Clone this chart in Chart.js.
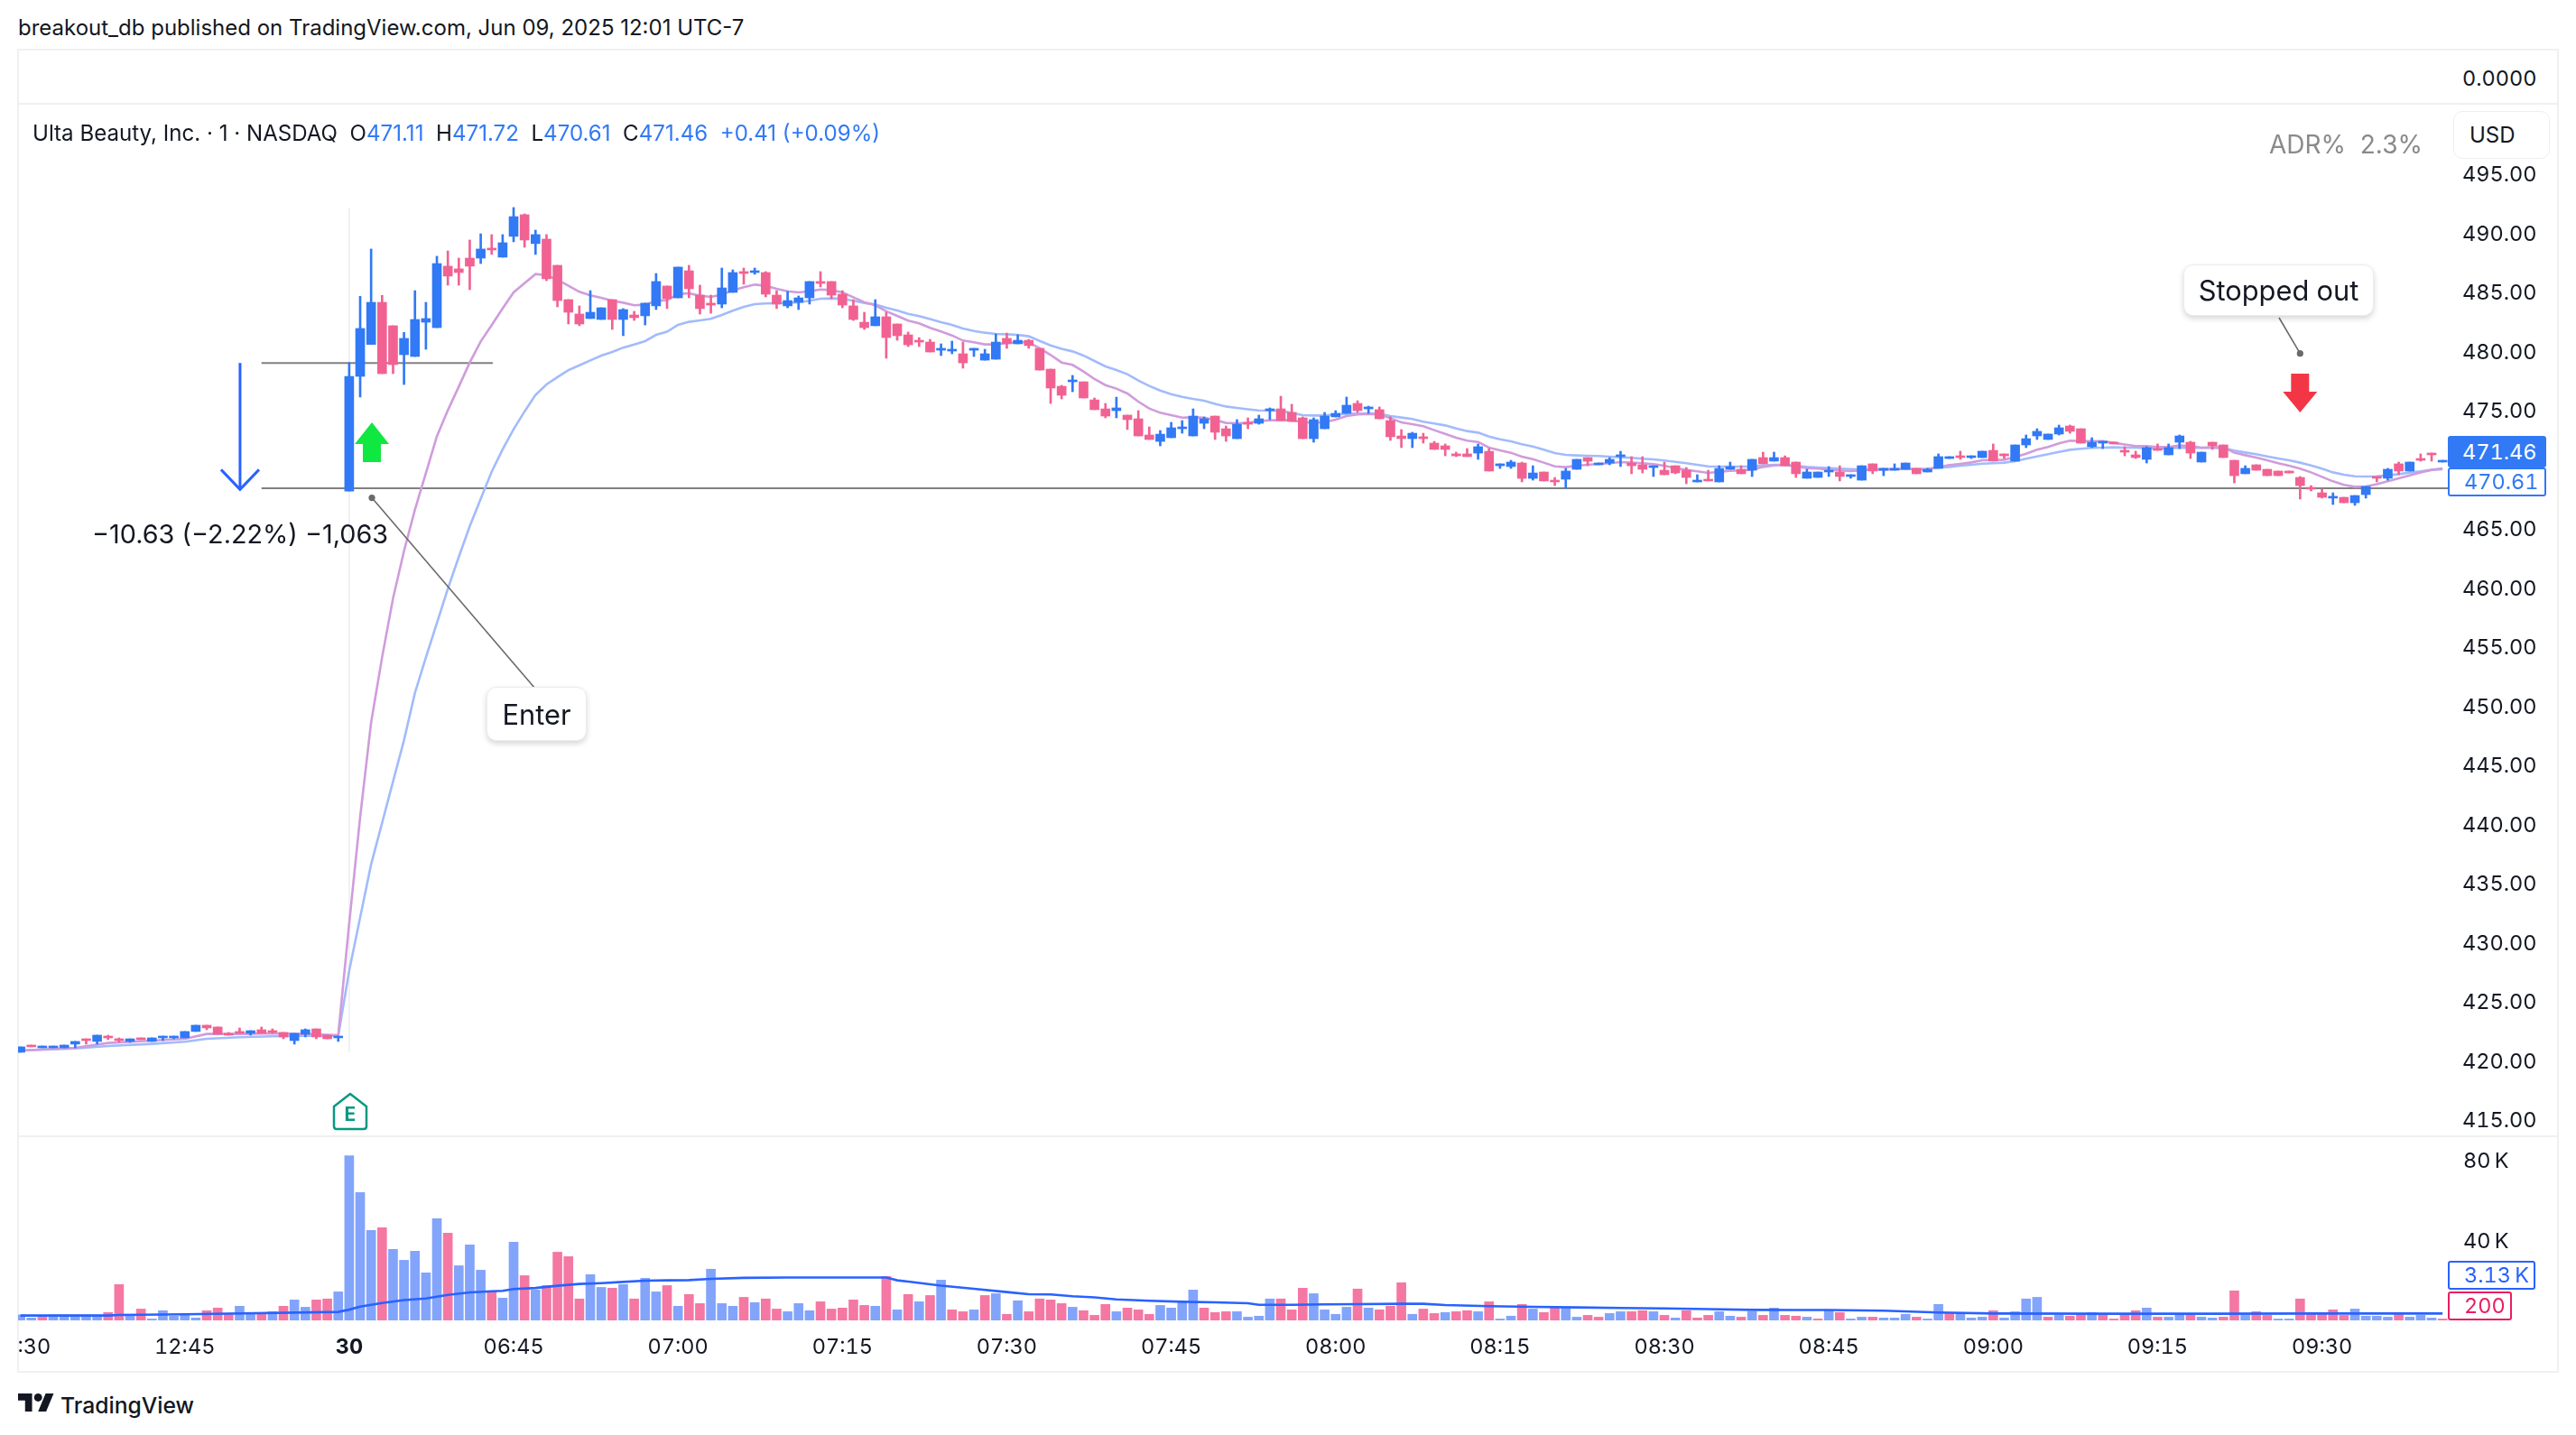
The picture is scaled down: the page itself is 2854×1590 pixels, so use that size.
<!DOCTYPE html>
<html><head><meta charset="utf-8">
<script src="https://cdn.jsdelivr.net/npm/chart.js@4/dist/chart.umd.min.js"></script>
<style>
html,body{margin:0;padding:0;background:#fff;width:2854px;height:1590px;overflow:hidden;font-family:Inter,sans-serif;color:#131722;font-variant-numeric:tabular-nums}
canvas{position:absolute;display:block}
.t{position:absolute;white-space:nowrap;line-height:1}
.rule{position:absolute;background:#f0f0f0}
.b{color:#3179f5}
.call{position:absolute;background:#fff;border:1px solid #ececec;border-radius:11px;box-shadow:0 3px 6px rgba(0,0,0,.16);display:flex;align-items:center;justify-content:center;font-size:30.8px;box-sizing:border-box}
.tag{position:absolute;box-sizing:border-box;border-radius:3px;font-size:23.5px;line-height:1;display:flex;align-items:center;padding-left:16px}
</style></head><body>
<div class="rule" style="left:20px;top:54px;width:2814px;height:2px"></div>
<div class="rule" style="left:20px;top:114px;width:2814px;height:2px"></div>
<div class="rule" style="left:20px;top:1258px;width:2814px;height:2px"></div>
<div class="rule" style="left:20px;top:1519px;width:2814px;height:2px"></div>
<div class="rule" style="left:19px;top:54px;width:2px;height:1467px"></div>
<div class="rule" style="left:2833px;top:54px;width:2px;height:1467px"></div>
<canvas id="price" width="2814" height="1140" style="left:20px;top:117px"></canvas>
<canvas id="vol" width="2814" height="259" style="left:20px;top:1260px"></canvas>

<div class="t" style="left:20px;top:19px;font-size:24px;font-variant-numeric:normal">breakout_db published on TradingView.com, Jun 09, 2025 12:01 UTC-7</div>
<div class="t" style="left:2728px;top:75px;font-size:23.5px">0.0000</div>
<div class="t" style="left:36px;top:136px;font-size:24.1px;font-variant-numeric:normal">Ulta Beauty, Inc. · 1 · NASDAQ&nbsp;&nbsp;O<span class="b">471.11</span>&nbsp;&nbsp;H<span class="b">471.72</span>&nbsp;&nbsp;L<span class="b">470.61</span>&nbsp;&nbsp;C<span class="b">471.46</span>&nbsp;&nbsp;<span class="b">+0.41 (+0.09%)</span></div>
<div class="t" style="left:2514px;top:146px;font-size:28px;color:#8a8a8a;font-variant-numeric:normal">ADR%&nbsp;&nbsp;2.3%</div>
<div style="position:absolute;left:2712px;top:118px;width:120px;height:65px;background:#fff;z-index:2"></div>
<div style="position:absolute;left:2718px;top:123px;width:107px;height:53px;box-sizing:border-box;background:#fff;border:1.5px solid #eee;border-radius:10px;z-index:2"></div>
<div class="t" style="left:2736px;top:138px;font-size:24px;z-index:3">USD</div>
<div class="t" style="left:102px;top:578px;font-size:28.8px;font-variant-numeric:normal">−10.63 (−2.22%) −1,063</div>
<div class="call" style="left:539px;top:761px;width:111px;height:60px">Enter</div>
<div class="call" style="left:2419px;top:293px;width:211px;height:57px">Stopped out</div>
<div class="tag" style="left:2712px;top:483px;width:109px;height:35px;background:#3179f5;color:#fff">471.46</div>
<div class="tag" style="left:2712px;top:518px;width:109px;height:32px;background:#fff;color:#3179f5;border:2px solid #3179f5">470.61</div>
<div class="tag" style="left:2712px;top:1397px;width:97px;height:32px;background:#fff;color:#2962ff;border:2px solid #2962ff">3.13&#8201;K</div>
<div class="tag" style="left:2712px;top:1431px;width:71px;height:32px;background:#fff;color:#e91e63;border:2px solid #e91e63">200</div>

<svg style="position:absolute;left:368px;top:1210px" width="40" height="44" viewBox="0 0 40 44">
<path d="M20 2 L38 16 V38 Q38 41 35 41 H5 Q2 41 2 38 V16 Z" fill="#fff" stroke="#089981" stroke-width="2.5" stroke-linejoin="round"/>
<text x="20" y="32" text-anchor="middle" font-family="Inter" font-weight="700" font-size="21" fill="#089981">E</text></svg>
<svg style="position:absolute;left:20px;top:1544px" width="40" height="20" viewBox="0 4 36 18"><path fill="#131722" d="M14 22H7V11H0V4h14v18zM28 22h-8l7.5-18h8L28 22z"/><circle fill="#131722" cx="20" cy="8" r="4"/></svg>
<div class="t" style="left:67px;top:1545px;font-size:24.7px;font-weight:500;font-variant-numeric:normal">TradingView</div>

<script>
const _ = null;
const open = [
420.60,421.21,420.98,420.98,420.98,421.29,421.74,421.52,421.97,421.74,421.52,421.82,421.52,421.82,421.82,421.82,422.36,422.89,422.74,422.20,422.36,422.20,422.51,422.43,422.28,421.59,422.13,422.58,422.05,421.82,
468.07,477.77,480.47,484.03,482.05,479.60,479.45,482.35,481.89,487.09,486.86,487.77,487.77,488.61,487.85,489.61,491.44,489.00,489.38,487.16,484.26,483.04,482.66,482.58,484.26,482.58,482.96,482.89,483.73,485.41,484.41,486.70,484.64,483.96,483.88,484.87,486.63,486.55,486.55,484.64,483.73,484.03,484.41,
485.79,485.79,484.72,483.73,482.35,482.05,482.81,482.20,481.28,480.82,480.67,479.98,479.91,479.68,479.98,479.14,479.22,480.98,480.52,480.82,480.14,478.38,476.93,477.31,477.31,475.78,475.02,474.87,474.49,474.18,472.81,472.27,472.58,473.34,472.73,473.80,474.41,473.34,472.50,473.88,473.80,474.87,
475.02,474.72,474.26,472.50,473.34,474.34,474.64,475.48,475.02,474.95,474.03,472.73,472.50,472.66,472.12,471.89,471.21,471.21,471.28,471.43,470.21,470.14,470.44,469.14,469.68,468.99,469.07,469.91,470.90,470.29,470.44,470.98,470.44,470.29,470.06,469.83,470.21,469.83,468.84,469.07,468.84,469.91,469.91,
469.83,470.90,470.60,470.90,470.52,469.15,469.22,469.68,469.68,469.30,468.99,470.37,469.83,469.83,469.91,469.99,469.68,469.99,470.82,471.05,470.90,470.90,471.51,471.21,470.60,471.97,472.73,472.43,472.89,473.57,473.34,471.82,472.12,472.20,471.51,471.13,470.75,471.66,471.13,472.20,472.20,470.52,
472.20,471.97,470.67,469.53,470.29,469.91,469.76,469.76,469.22,468.38,467.92,467.47,467.54,467.08,467.77,469.30,469.15,470.37,469.76,470.82,471.28,470.52];
const high = [
421.06,421.21,421.13,421.13,421.21,421.52,421.74,422.05,422.05,421.82,421.74,421.82,421.82,421.97,421.97,422.36,422.89,422.89,422.74,422.28,422.66,422.43,422.74,422.58,422.28,422.20,422.58,422.58,422.05,421.97,
478.94,484.54,488.54,484.62,482.05,481.49,485.02,484.03,487.93,488.38,487.77,489.30,489.83,489.76,489.76,492.05,491.51,490.14,489.76,487.16,484.26,483.73,485.02,483.57,484.26,483.50,483.27,483.96,486.47,485.41,487.01,487.16,485.48,484.64,486.93,486.78,486.93,486.93,486.63,485.02,484.95,484.57,485.79,
486.63,485.79,485.02,484.26,483.19,484.26,483.19,482.20,481.51,481.05,480.90,480.52,480.75,480.67,480.14,480.06,481.36,481.43,481.28,480.90,480.14,478.38,477.01,477.85,477.31,475.94,475.48,476.01,474.49,474.87,473.49,473.19,473.88,474.03,475.02,474.33,474.41,473.57,474.11,474.26,474.49,475.10,
476.09,475.41,474.34,474.26,474.72,474.87,476.02,475.71,475.25,475.18,474.34,473.27,473.04,472.96,472.27,472.05,471.36,471.66,472.05,471.66,470.37,470.67,470.52,470.21,469.68,469.22,469.98,470.75,470.90,470.44,470.90,471.43,470.98,470.98,470.21,470.52,470.21,470.06,469.45,469.83,470.21,470.52,470.21,
470.75,471.36,471.36,471.05,470.52,469.91,469.68,470.14,470.21,469.45,470.21,470.37,469.99,470.37,470.44,469.99,469.99,471.21,470.98,471.44,471.05,471.44,472.05,471.21,471.97,472.81,473.34,472.89,473.65,473.65,473.34,472.58,472.28,472.20,471.82,471.44,471.82,472.05,472.05,472.81,472.28,471.36,
472.20,471.97,470.67,470.21,470.29,469.91,469.76,469.76,469.30,468.53,468.23,467.92,467.54,467.69,468.46,469.30,469.99,470.52,470.52,471.21,471.28,470.67];
const low = [
420.60,421.06,420.98,420.98,420.98,420.98,421.29,421.29,421.67,421.44,421.44,421.67,421.52,421.59,421.74,421.82,422.36,422.51,422.13,422.05,422.20,422.05,422.20,422.20,421.74,421.29,421.90,421.74,421.74,421.52,
468.07,476.02,480.47,478.00,478.00,477.08,479.45,480.06,481.89,485.48,485.48,485.10,487.31,488.08,487.85,489.15,488.69,488.08,485.86,483.65,482.20,482.05,482.66,482.58,481.74,481.21,482.50,482.12,483.42,483.50,484.41,484.41,483.04,483.11,483.57,484.87,485.56,486.40,484.49,483.50,483.57,483.42,483.88,
485.33,484.34,483.57,482.50,481.74,482.05,479.30,480.82,480.29,480.29,479.83,479.53,479.68,478.46,479.45,479.14,479.22,480.14,480.52,480.14,478.30,475.48,475.86,476.47,475.94,474.95,474.26,474.26,473.27,472.73,472.43,471.89,472.58,472.96,472.73,473.34,472.43,472.27,472.50,473.34,473.72,474.11,
474.03,473.95,472.50,472.20,473.34,474.34,474.64,474.72,474.64,474.18,472.35,471.74,471.74,472.12,471.59,471.05,470.98,470.98,470.75,469.76,469.98,469.98,468.84,468.99,468.92,468.53,468.30,469.91,470.21,470.29,470.29,470.14,469.53,469.60,469.30,469.45,469.53,468.69,468.84,468.92,468.84,469.91,469.53,
469.30,470.37,470.60,470.21,469.22,469.15,469.22,469.30,468.92,469.15,468.99,469.53,469.37,469.83,469.91,469.53,469.68,469.99,470.82,470.75,470.82,470.90,470.60,470.82,470.60,471.74,472.43,472.43,472.81,472.96,472.12,471.74,471.66,472.05,471.05,470.82,470.44,471.51,471.13,471.66,470.82,470.52,
471.59,470.90,468.76,469.53,469.83,469.37,469.37,469.60,467.39,468.08,467.47,466.93,467.08,466.86,467.47,468.84,468.99,469.45,469.76,470.60,470.60,470.52];
const close = [
421.06,421.06,421.13,421.13,421.21,421.52,421.59,422.05,421.82,421.59,421.74,421.67,421.82,421.97,421.97,422.36,422.89,422.66,422.13,422.05,422.20,422.43,422.20,422.28,421.90,422.20,422.51,421.90,421.74,421.97,
477.77,481.82,484.03,478.00,478.76,480.98,482.58,482.66,487.31,486.25,486.55,487.09,488.54,488.46,489.07,491.28,489.30,489.76,486.02,484.18,483.19,482.20,483.19,483.57,482.58,483.42,482.73,483.96,485.79,484.34,487.01,485.18,483.50,483.80,485.25,486.55,486.47,486.70,484.72,483.88,484.18,484.41,485.79,
485.63,484.64,483.80,482.58,481.89,482.81,481.05,481.21,480.44,480.67,479.83,480.14,480.06,478.91,480.14,479.68,480.67,480.52,480.82,480.37,478.30,476.78,476.17,477.46,475.94,474.95,474.41,475.10,474.11,472.73,472.43,472.88,473.42,473.49,474.41,474.18,473.04,472.73,473.72,473.72,474.18,475.02,
474.03,473.95,472.50,474.11,474.41,474.64,475.33,474.87,475.18,474.18,472.66,472.50,472.96,472.50,471.59,471.59,471.05,470.98,471.82,469.76,470.37,470.52,469.14,469.60,468.92,468.84,469.76,470.75,470.59,470.44,470.75,471.13,470.21,469.91,470.21,469.45,469.60,469.22,468.99,468.92,469.98,470.14,469.53,
470.75,470.37,470.90,470.21,469.53,469.68,469.68,469.83,469.30,469.45,470.21,469.76,469.99,469.99,470.44,469.53,469.91,470.98,470.98,470.90,471.05,471.44,470.60,471.05,471.97,472.50,473.12,472.89,473.42,473.12,472.12,472.20,472.28,472.05,471.36,470.90,471.74,471.51,471.74,472.73,471.28,471.36,
471.89,470.90,469.37,469.99,469.83,469.37,469.37,469.60,468.53,468.23,467.54,467.62,467.08,467.69,468.46,469.15,469.91,469.76,470.52,470.67,471.13,470.67];
const emaFast = [
420.75,_,_,_,_,420.98,_,_,421.39,_,_,_,421.59,_,_,421.74,_,422.15,_,_,422.15,_,_,422.2,_,_,422.15,_,_,422.05,
431.5,440.5,448.5,454,459,463,466.5,469.6,472.7,474.9,476.9,478.94,480.72,482.1,483.52,484.87,485.66,486.42,486.32,485.94,485.43,484.92,484.62,484.41,484.16,484.0,483.78,483.83,484.16,484.21,484.72,484.8,484.59,484.49,484.67,485.05,485.3,485.53,485.43,485.18,484.97,484.87,484.97,
485.12,485.07,484.87,484.46,484.03,483.78,483.27,482.88,482.48,482.25,481.87,481.56,481.23,480.8,480.65,480.47,480.47,480.6,480.65,480.65,480.14,479.58,478.94,478.74,478.18,477.54,477.03,476.73,476.32,475.63,475.05,474.69,474.49,474.28,474.31,474.28,474.08,473.83,473.8,473.83,473.98,474.05,474.08,
474.06,473.9,473.85,473.9,474.11,474.41,474.54,474.59,474.54,474.23,473.88,473.73,473.55,473.22,472.91,472.58,472.33,472.22,471.74,471.51,471.31,470.98,470.77,470.47,470.16,470.09,470.21,470.29,470.37,470.42,470.52,470.47,470.42,470.34,470.21,470.01,469.86,469.73,469.6,469.7,469.78,469.81,
469.88,470.11,470.24,470.27,470.16,470.01,469.96,469.88,469.81,469.76,469.81,469.88,469.88,469.91,469.96,469.88,469.91,470.09,470.27,470.37,470.49,470.67,470.7,470.72,470.93,471.23,471.56,471.79,472.1,472.33,472.3,472.28,472.28,472.15,472.0,471.87,471.87,471.79,471.79,471.92,471.87,471.74,471.77,
471.79,471.31,471.1,470.9,470.67,470.42,470.21,469.96,469.65,469.27,468.89,468.59,468.43,468.46,468.64,468.89,469.15,469.4,469.65,469.86,469.99];
const emaSlow = [
420.75,_,_,_,_,420.93,_,_,421.13,_,_,_,421.31,_,_,421.49,_,421.74,_,_,421.87,_,_,421.95,_,_,422.0,_,_,422.0,
427.5,432,436.5,440,443.5,447,451,454,456.9,459.8,462.5,465.1,467.4,469.7,471.6,473.3,474.8,476.2,477.08,477.7,478.3,478.7,479.12,479.53,479.83,480.2,480.47,480.75,481.28,481.54,482.12,482.38,482.5,482.63,482.96,483.32,483.65,483.88,483.93,483.96,483.98,484.03,484.16,
484.34,484.36,484.34,484.16,483.98,483.85,483.57,483.34,483.06,482.86,482.61,482.35,482.12,481.82,481.61,481.46,481.36,481.33,481.28,481.16,480.77,480.39,480.09,479.88,479.53,479.07,478.61,478.3,477.95,477.41,476.96,476.57,476.27,476.04,475.86,475.71,475.45,475.22,475.1,474.99,474.89,474.87,474.87,
474.67,474.49,474.46,474.46,474.54,474.59,474.62,474.64,474.62,474.41,474.29,474.16,473.93,473.78,473.62,473.37,473.14,473.01,472.68,472.45,472.27,472.02,471.84,471.56,471.28,471.13,471.08,471.05,471.03,470.98,470.93,470.88,470.8,470.75,470.65,470.54,470.42,470.29,470.16,470.14,470.14,470.14,
470.16,470.24,470.29,470.29,470.21,470.11,470.06,470.01,469.96,469.93,469.91,469.93,469.93,469.93,469.93,469.93,469.96,470.04,470.11,470.21,470.29,470.39,470.42,470.47,470.6,470.8,471.0,471.18,471.38,471.56,471.64,471.72,471.74,471.77,471.74,471.74,471.69,471.69,471.69,471.72,471.74,471.72,471.72,
471.69,471.49,471.33,471.18,471.0,470.82,470.67,470.47,470.24,469.96,469.65,469.45,469.32,469.3,469.32,469.4,469.5,469.63,469.73,469.86,469.91];
const volumeK = [
2.7,1.2,1.6,2.7,2.7,2.7,2.7,2.7,3.9,17.7,2.7,5.6,0.7,4.8,2.1,3.4,1.2,4.8,6.1,3.4,7.0,3.4,3.0,4.3,7.0,10.1,6.5,10.1,10.6,14.1,
81.4,63.2,44.4,45.8,35.1,29.7,34.2,23.5,50.2,43.1,27.0,37.3,24.8,14.6,11.0,38.6,22.1,15.0,17.2,33.7,31.5,10.6,22.6,16.3,15.9,17.7,10.6,20.8,14.1,17.2,7.0,12.8,8.3,25.3,8.3,7.0,11.4,8.8,10.6,5.6,4.3,8.3,4.8,9.2,5.6,6.1,10.1,7.4,7.0,21.7,5.2,
12.8,9.2,12.3,19.9,5.2,4.3,5.2,12.3,13.2,3.0,9.7,4.3,10.6,10.1,8.3,6.5,4.8,2.5,7.9,4.3,6.1,5.2,3.0,7.4,6.1,9.2,15.0,6.1,3.9,4.3,4.3,1.6,2.1,10.6,10.6,5.2,15.9,13.2,5.2,3.0,6.5,15.5,6.1,5.2,7.0,18.6,3.0,5.6,3.4,3.9,4.3,4.8,4.3,9.2,0.7,2.1,7.9,5.6,3.9,6.5,6.5,1.6,2.5,1.6,3.4,4.3,4.3,4.8,4.3,2.5,1.2,4.8,1.2,2.5,4.3,2.1,1.6,4.3,2.5,6.1,2.5,2.1,
1.6,0.7,4.8,3.9,0.7,1.6,1.6,1.2,1.2,3.0,1.6,0.7,7.9,3.4,3.4,1.2,1.6,4.8,1.2,4.3,10.6,11.4,1.6,2.5,2.1,3.4,3.9,3.4,0.7,3.0,4.8,6.1,1.6,1.6,3.4,3.0,1.6,1.2,1.6,14.6,2.5,4.3,2.5,0.7,0.7,10.6,3.4,3.4,5.2,2.5,5.6,2.1,2.1,1.6,3.4,1.6,2.5,1.2,0.7];
const volumeSide = ("uuduuuuudd"+"uduuuuuddd"+"uududuuddu"+"uuuduuuuud"+"uuuduududd"+"dduududuud"+"udduuududd"+"uuudddddud"+"udududdudu"+"dudddduddd"+"uddduuuudd"+"duuuuddduu"+"uududddudd"+"udduduudud"+"duudduuddu"+"duddduudud"+"uddududuud"+"uuuduuduuu"+"duuuududdu"+"dddduduudu"+"uddudduudd"+"ddduuuuduu"+"ud").split("");
const volMaBar = [0,8,9,15,29,30,31,33,35,37,39,41,43,44,45,47,49,51,53,55,57,59,61,63,66,70,75,79,80,81,84,87,90,92,94,96,98,100,103,106,109,112,113,116,119,122,126,128,130,134,138,142,146,150,154,158,162,165,170,175,180,190,200,210,221];
const volMaK = [2.4,2.4,2.7,3.0,4.2,5.3,6.8,8.6,10.0,10.8,12.6,13.8,14.4,14.6,15.5,16.0,17.1,18.0,18.4,19.0,19.6,19.8,19.9,20.5,21.0,21.2,21.2,21.2,19.8,19.2,17.2,15.6,14.0,12.9,12.8,11.9,11.4,10.4,9.7,9.2,8.9,8.5,7.7,7.7,7.9,8.0,8.2,8.2,7.6,7.0,6.7,6.4,6.1,5.9,5.6,5.2,5.1,5.1,4.8,3.9,3.4,3.3,3.3,3.4,3.4];
const timeTickBars = [0,15,30,45,60,75,90,105,120,135,150,165,180,195,210];
const timeTickLabels = ["12:30","12:45","30","06:45","07:00","07:15","07:30","07:45","08:00","08:15","08:30","08:45","09:00","09:15","09:30"];
const priceTicks = [415,420,425,430,435,440,445,450,455,460,465,475,480,485,490,495];
const volumeTicks = [40,80];
const entryLevel = 478.9, stopLevel = 468.3;

const C_UP='#3179f5', C_DN='#f16292', V_UP='#83a4fb', V_DN='#f478a3';
const FONT='Inter', TXT='#131722';
const bars = open.map((_v,i)=>i);
const upDn = i => close[i]>=open[i] ? C_UP : C_DN;
const series = arr => arr.map((y,x)=>({x,y})).filter(p=>p.y!==null);
const xRange = {min:-0.214,max:221.48,offset:false};

const annotate = {
  id:'annotate',
  afterDatasetsDraw(ch){
    const {ctx,scales:{x,y}} = ch;
    ctx.save();
    const ax=x.getPixelForValue(20.04), a1=y.getPixelForValue(478.9), a2=y.getPixelForValue(468.2);
    ctx.strokeStyle='#2962ff';ctx.lineWidth=3;ctx.lineJoin='miter';
    ctx.beginPath();ctx.moveTo(ax,a1);ctx.lineTo(ax,a2);ctx.stroke();
    ctx.beginPath();ctx.moveTo(ax-21,a2-22);ctx.lineTo(ax,a2);ctx.lineTo(ax+21,a2-22);ctx.stroke();
    const gx=x.getPixelForValue(32.07), gy=y.getPixelForValue(473.88);
    ctx.fillStyle='#0fe840';ctx.beginPath();
    ctx.moveTo(gx,gy);ctx.lineTo(gx+19,gy+24);ctx.lineTo(gx+10,gy+24);ctx.lineTo(gx+10,gy+44);ctx.lineTo(gx-10,gy+44);ctx.lineTo(gx-10,gy+24);ctx.lineTo(gx-19,gy+24);ctx.closePath();ctx.fill();
    const rx=x.getPixelForValue(208), ry=y.getPixelForValue(474.72);
    ctx.fillStyle='#f23645';ctx.beginPath();
    ctx.moveTo(rx,ry);ctx.lineTo(rx+19,ry-23);ctx.lineTo(rx+10,ry-23);ctx.lineTo(rx+10,ry-43);ctx.lineTo(rx-10,ry-43);ctx.lineTo(rx-10,ry-23);ctx.lineTo(rx-19,ry-23);ctx.closePath();ctx.fill();
    ctx.strokeStyle='#6a6a6a';ctx.fillStyle='#6a6a6a';ctx.lineWidth=1.6;
    const lead=(bx,by,cx,cy)=>{ctx.beginPath();ctx.moveTo(bx,by);ctx.lineTo(cx,cy);ctx.stroke();ctx.beginPath();ctx.arc(bx,by,3.6,0,7);ctx.fill();};
    lead(x.getPixelForValue(32.07),y.getPixelForValue(467.5),573,646);
    lead(x.getPixelForValue(208),y.getPixelForValue(479.7),2505,235);
    ctx.restore();
  }
};

new Chart(document.getElementById('price'),{
  type:'bar',
  data:{datasets:[
    {label:'body',data:bars.map(i=>({x:i,y:[open[i],close[i]]})),backgroundColor:bars.map(upDn),barThickness:10,minBarLength:2,order:0},
    {label:'wick',data:bars.map(i=>({x:i,y:[low[i],high[i]]})),backgroundColor:bars.map(upDn),barThickness:2,order:0},
    {type:'line',label:'EMA fast',data:series(emaFast),borderColor:'#d09cdc',borderWidth:2.6,pointRadius:0,tension:0,order:1},
    {type:'line',label:'EMA slow',data:series(emaSlow),borderColor:'#a2bbfb',borderWidth:2.6,pointRadius:0,tension:0,order:2},
    {type:'line',label:'entry',data:[{x:22,y:entryLevel},{x:43.1,y:entryLevel}],borderColor:'#808080',borderWidth:2,pointRadius:0,order:3},
    {type:'line',label:'stop',data:[{x:22,y:stopLevel},{x:221.48,y:stopLevel}],borderColor:'#808080',borderWidth:2,pointRadius:0,order:3},
    {type:'line',label:'session',data:[{x:30,y:492.06},{x:30,y:420.6}],borderColor:'#f0f1f3',borderWidth:2,pointRadius:0,order:4}
  ]},
  options:{
    responsive:false,devicePixelRatio:1,animation:false,
    layout:{padding:0},
    datasets:{bar:{grouped:false,borderWidth:0}},
    plugins:{legend:{display:false},title:{display:false},tooltip:{enabled:false}},
    scales:{
      x:{type:'linear',display:false,...xRange},
      y:{position:'right',min:413.65,max:500.67,
        grid:{display:false,drawTicks:false},border:{display:false},
        afterBuildTicks:s=>{s.ticks=priceTicks.map(value=>({value}));},
        afterFit:s=>{s.width=122;s.paddingTop=0;s.paddingBottom=0;},
        ticks:{padding:16,labelOffset:3,color:TXT,font:{family:FONT,size:23.5},callback:v=>Number(v).toFixed(2)}
      }
    }
  },
  plugins:[annotate]
});

new Chart(document.getElementById('vol'),{
  type:'bar',
  data:{datasets:[
    {label:'Volume',data:bars.map(i=>({x:i,y:volumeK[i]})),backgroundColor:bars.map(i=>volumeSide[i]==='u'?V_UP:V_DN),barThickness:10,order:1},
    {type:'line',label:'Volume MA',data:volMaBar.map((x,i)=>({x,y:volMaK[i]})),borderColor:'#2962ff',borderWidth:2.6,pointRadius:0,tension:0,order:0}
  ]},
  options:{
    responsive:false,devicePixelRatio:1,animation:false,
    layout:{padding:0},
    datasets:{bar:{grouped:false,borderWidth:0}},
    plugins:{legend:{display:false},title:{display:false},tooltip:{enabled:false}},
    scales:{
      x:{type:'linear',...xRange,
        grid:{display:false,drawTicks:false},border:{display:false},
        afterBuildTicks:s=>{s.ticks=timeTickBars.map(value=>({value}));},
        afterFit:s=>{s.height=56;s.paddingLeft=0;s.paddingRight=0;},
        ticks:{autoSkip:false,maxRotation:0,minRotation:0,padding:16,color:TXT,
          font:c=>({family:FONT,size:23.5,weight:timeTickLabels[timeTickBars.indexOf(c.tick&&c.tick.value)]==='30'?'700':'400'}),
          callback:v=>timeTickLabels[timeTickBars.indexOf(v)]}
      },
      y:{position:'right',min:0,max:90.53,
        grid:{display:false,drawTicks:false},border:{display:false},
        afterBuildTicks:s=>{s.ticks=volumeTicks.map(value=>({value}));},
        afterFit:s=>{s.width=122;s.paddingTop=0;s.paddingBottom=0;},
        ticks:{padding:17,labelOffset:3,color:TXT,font:{family:FONT,size:23.5},callback:v=>v+'\u2009K'}
      }
    }
  }
});
</script>
</body></html>
